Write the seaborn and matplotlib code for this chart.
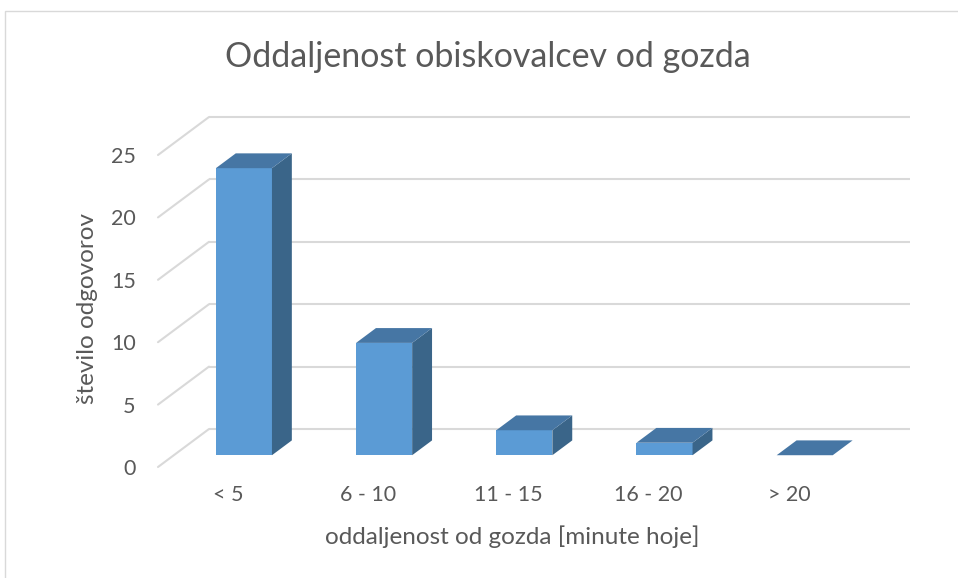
import matplotlib
matplotlib.use('Agg')
import matplotlib.pyplot as plt
import numpy as np
import seaborn as sns
from matplotlib.patches import Polygon, Rectangle

# podatki
categories = ['< 5', '6 - 10', '11 - 15', '16 - 20', '> 20']
counts = [23, 9, 2, 1, 0]
yticks = [0, 5, 10, 15, 20, 25]

title = 'Oddaljenost obiskovalcev od gozda'
xlabel = 'oddaljenost od gozda [minute hoje]'
ylabel = 'število odgovorov'

sns.set_style('white')
plt.rcParams['font.family'] = ['Lato', 'DejaVu Sans']
txt = '#595959'
grid_c = '#d9d9d9'
front_c = '#5B9BD5'
side_c = '#3A6589'
top_c = '#4676A4'

fig = plt.figure(figsize=(9.58, 5.78), dpi=100)
ax = fig.add_axes([158 / 958, 111 / 578, 701 / 958, 312 / 578])
ax.set_facecolor('none')

sns.barplot(x=categories, y=counts, color=front_c, width=0.4, saturation=1,
            ax=ax, zorder=3, linewidth=0)
ax.set_xlim(-0.5, len(categories) - 0.5)
ax.set_ylim(0, 25)

# globina 3D v pikslih -> enote podatkov
o = ax.transData.transform((0, 0))
sx = ax.transData.transform((1, 0))[0] - o[0]
sy = ax.transData.transform((0, 1))[1] - o[1]
ddx, ddy = 51 / sx, 38 / sy      # celotna globina (zadnja stena)
f_front, f_depth = 0.31, 0.39     # polozaj sprednje ploskve stolpca, globina stolpca

# zadnja stena in leva diagonala
x0, x1 = ax.get_xlim()
for v in yticks:
    ax.plot([x0 + ddx, x1 + ddx], [v + ddy, v + ddy], color=grid_c, lw=1.5,
            zorder=1, clip_on=False, solid_capstyle='butt')
    ax.plot([x0, x0 + ddx], [v, v + ddy], color=grid_c, lw=1.5,
            zorder=1, clip_on=False)

# 3D stolpci
bdx, bdy = f_depth * ddx, f_depth * ddy
for p in ax.patches:
    bx, bw, bh = p.get_x(), p.get_width(), p.get_height()
    p.set_x(bx + f_front * ddx)
    p.set_y(f_front * ddy)
    p.set_clip_on(False)
    l = p.get_x()
    r = l + bw
    b = p.get_y()
    t = b + bh
    side = Polygon([(r, b), (r, t), (r + bdx, t + bdy), (r + bdx, b + bdy)],
                   closed=True, facecolor=side_c, edgecolor='none', zorder=3, clip_on=False)
    top = Polygon([(l, t), (r, t), (r + bdx, t + bdy), (l + bdx, t + bdy)],
                  closed=True, facecolor=top_c, edgecolor='none', zorder=4, clip_on=False)
    ax.add_patch(side)
    ax.add_patch(top)

ax.set_yticks(yticks)
ax.tick_params(axis='both', length=0, labelsize=15.5, labelcolor=txt)
ax.tick_params(axis='y', pad=16)
ax.tick_params(axis='x', pad=13)
sns.despine(ax=ax, left=True, bottom=True)
ax.set_xlabel('')
ax.set_ylabel('')

fig.text(488 / 958, 1 - 57 / 578, title, ha='center', va='center', fontsize=24.5, color=txt)
fig.text(512 / 958, 1 - 537 / 578, xlabel, ha='center', va='center', fontsize=17.5, color=txt)
fig.text(88 / 958, 1 - 309 / 578, ylabel, ha='center', va='center', rotation=90,
         fontsize=17.5, color=txt)

# okvir grafikona
fig.patches.append(Rectangle((5 / 958, -0.1), 2, 1.1 - 11 / 578, transform=fig.transFigure,
                             fill=False, edgecolor=grid_c, lw=1))

fig.savefig('out.png', dpi=100)
